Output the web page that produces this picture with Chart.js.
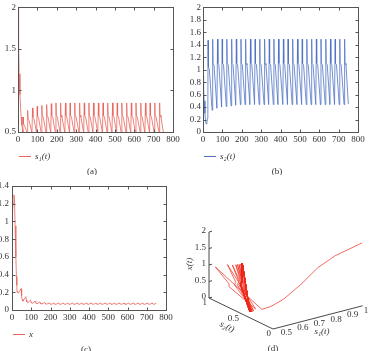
<!DOCTYPE html>
<html>
<head>
<meta charset="utf-8">
<script src="https://cdn.jsdelivr.net/npm/chart.js@4.4.0/dist/chart.umd.min.js"></script>
<style>
  body { margin: 0; background: #fff; width: 369px; height: 351px; position: relative; overflow: hidden; }
  canvas { position: absolute; }
</style>
</head>
<body>
<canvas id="ca" width="185" height="175" style="left:0;top:0"></canvas>
<canvas id="cb" width="184" height="175" style="left:185px;top:0"></canvas>
<canvas id="cc" width="185" height="176" style="left:0;top:175px"></canvas>
<canvas id="cd" width="184" height="176" style="left:185px;top:175px"></canvas>
<script>
// sample times and the three state variables
const time = [0, 3, 6, 10, 13, 16, 20, 23, 25,
  26, 28, 33, 47, 50, 52, 57, 72, 75, 77, 82, 96, 99, 101, 106, 120,
  123, 125, 130, 145, 148, 150, 155, 169, 172, 174, 179, 193, 196, 198, 203, 217,
  220, 222, 227, 242, 245, 247, 252, 266, 269, 271, 276, 290, 293, 295, 300, 315,
  318, 320, 325, 339, 342, 344, 349, 363, 366, 368, 373, 387, 390, 392, 397, 412,
  415, 417, 422, 436, 439, 441, 446, 460, 463, 465, 470, 485, 488, 490, 495, 509,
  512, 514, 519, 533, 536, 538, 543, 558, 561, 563, 568, 582, 585, 587, 592, 606,
  609, 611, 616, 631, 634, 636, 641, 655, 658, 660, 665, 679, 682, 684, 689, 703,
  706, 708, 713, 728, 731, 733, 738, 750];

const s1 = [2.0, 1.55, 1.2, 0.95, 0.8, 0.68, 0.58, 0.53, 0.5,
  0.68, 0.6, 0.58, 0.49, 0.76, 0.66, 0.64, 0.49, 0.79, 0.68, 0.66, 0.49, 0.81, 0.69, 0.67, 0.49,
  0.82, 0.7, 0.68, 0.49, 0.83, 0.7, 0.68, 0.49, 0.84, 0.7, 0.68, 0.49, 0.85, 0.7, 0.68, 0.49,
  0.85, 0.7, 0.68, 0.49, 0.85, 0.7, 0.68, 0.49, 0.85, 0.7, 0.68, 0.49, 0.85, 0.7, 0.68, 0.49,
  0.85, 0.7, 0.68, 0.49, 0.85, 0.7, 0.68, 0.49, 0.85, 0.7, 0.68, 0.49, 0.85, 0.7, 0.68, 0.49,
  0.85, 0.7, 0.68, 0.49, 0.85, 0.7, 0.68, 0.49, 0.85, 0.7, 0.68, 0.49, 0.85, 0.7, 0.68, 0.49,
  0.85, 0.7, 0.68, 0.49, 0.85, 0.7, 0.68, 0.49, 0.85, 0.7, 0.68, 0.49, 0.85, 0.7, 0.68, 0.49,
  0.85, 0.7, 0.68, 0.49, 0.85, 0.7, 0.68, 0.49, 0.85, 0.7, 0.68, 0.49, 0.85, 0.7, 0.68, 0.49,
  0.85, 0.7, 0.68, 0.49, 0.85, 0.7, 0.68, 0.5];

const s2 = [0.9, 0.7, 0.5, 0.3, 0.18, 0.13, 0.15, 0.22, 0.28,
  1.47, 1.05, 1.0, 0.35, 1.49, 1.1, 1.07, 0.38, 1.49, 1.1, 1.08, 0.4, 1.49, 1.1, 1.08, 0.41,
  1.49, 1.1, 1.08, 0.42, 1.49, 1.1, 1.08, 0.43, 1.49, 1.1, 1.08, 0.44, 1.49, 1.1, 1.08, 0.44,
  1.49, 1.1, 1.08, 0.44, 1.49, 1.1, 1.08, 0.44, 1.49, 1.1, 1.08, 0.44, 1.49, 1.1, 1.08, 0.44,
  1.49, 1.1, 1.08, 0.44, 1.49, 1.1, 1.08, 0.44, 1.49, 1.1, 1.08, 0.44, 1.49, 1.1, 1.08, 0.44,
  1.49, 1.1, 1.08, 0.44, 1.49, 1.1, 1.08, 0.44, 1.49, 1.1, 1.08, 0.44, 1.49, 1.1, 1.08, 0.44,
  1.49, 1.1, 1.08, 0.44, 1.49, 1.1, 1.08, 0.44, 1.49, 1.1, 1.08, 0.44, 1.49, 1.1, 1.08, 0.44,
  1.49, 1.1, 1.08, 0.44, 1.49, 1.1, 1.08, 0.44, 1.49, 1.1, 1.08, 0.44, 1.49, 1.1, 1.08, 0.44,
  1.49, 1.1, 1.08, 0.44, 1.49, 1.1, 1.08, 0.45];

const xv = [1.0, 1.12, 1.2, 1.3, 1.25, 0.95, 0.6, 0.38, 0.28,
  0.21, 0.2, 0.19, 0.24, 0.16, 0.12, 0.1, 0.15, 0.11, 0.09, 0.08, 0.11, 0.09, 0.08, 0.075, 0.1,
  0.085, 0.075, 0.07, 0.09, 0.08, 0.07, 0.068, 0.085, 0.075, 0.068, 0.065, 0.08, 0.072, 0.066, 0.063, 0.078,
  0.072, 0.066, 0.063, 0.078, 0.072, 0.066, 0.063, 0.078, 0.072, 0.066, 0.063, 0.078, 0.072, 0.066, 0.063, 0.078,
  0.072, 0.066, 0.063, 0.078, 0.072, 0.066, 0.063, 0.078, 0.072, 0.066, 0.063, 0.078, 0.072, 0.066, 0.063, 0.078,
  0.072, 0.066, 0.063, 0.078, 0.072, 0.066, 0.063, 0.078, 0.072, 0.066, 0.063, 0.078, 0.072, 0.066, 0.063, 0.078,
  0.072, 0.066, 0.063, 0.078, 0.072, 0.066, 0.063, 0.078, 0.072, 0.066, 0.063, 0.078, 0.072, 0.066, 0.063, 0.078,
  0.072, 0.066, 0.063, 0.078, 0.072, 0.066, 0.063, 0.078, 0.072, 0.066, 0.063, 0.078, 0.072, 0.066, 0.063, 0.078,
  0.072, 0.066, 0.063, 0.078, 0.072, 0.066, 0.063, 0.078];

const timeTicks = [0, 100, 200, 300, 400, 500, 600, 700, 800];
const s1Ticks = [0.5, 1, 1.5, 2];
const s2Ticks = [0, 0.2, 0.4, 0.6, 0.8, 1, 1.2, 1.4, 1.6, 1.8, 2];
const xTicks = [0, 0.2, 0.4, 0.6, 0.8, 1, 1.2, 1.4];

// 3d panel ticks
const zTicks3 = [0, 0.5, 1, 1.5, 2];
const s2Ticks3 = [0, 0.5, 1];
const s1Ticks3 = [0.5, 0.6, 0.7, 0.8, 0.9, 1];

const SERIF = '"Liberation Serif", "DejaVu Serif", serif';
const TXT = '#333';

// box with inward ticks, legend line and caption
const framePlugin = {
  id: 'frame',
  afterDraw(chart, args, opts) {
    const { ctx, chartArea: a, scales: { x, y } } = chart;
    ctx.save();
    ctx.strokeStyle = '#555';
    ctx.lineWidth = 1;
    const L = Math.round(a.left) + 0.5, T = Math.round(a.top) + 0.5;
    const R = Math.round(a.right) + 0.5, B = Math.round(a.bottom) + 0.5;
    ctx.strokeRect(L, T, R - L, B - T);
    ctx.beginPath();
    x.ticks.forEach(t => {
      const p = Math.round(x.getPixelForValue(t.value)) + 0.5;
      ctx.moveTo(p, B); ctx.lineTo(p, B - 3);
      ctx.moveTo(p, T); ctx.lineTo(p, T + 3);
    });
    y.ticks.forEach(t => {
      const p = Math.round(y.getPixelForValue(t.value)) + 0.5;
      ctx.moveTo(L, p); ctx.lineTo(L + 3, p);
      ctx.moveTo(R, p); ctx.lineTo(R - 3, p);
    });
    ctx.stroke();

    const ds = chart.data.datasets[0];
    const ly = Math.round(a.bottom) + 24.5;
    ctx.strokeStyle = ds.borderColor;
    ctx.beginPath();
    ctx.moveTo(a.left + 1, ly); ctx.lineTo(a.left + 13, ly);
    ctx.stroke();
    ctx.fillStyle = TXT;
    ctx.textBaseline = 'middle';
    ctx.font = 'italic 9px ' + SERIF;
    ctx.fillText(ds.label, a.left + 17, ly);
    ctx.textAlign = 'center';
    ctx.font = '9px ' + SERIF;
    ctx.fillText(opts.caption, a.left + 74, a.bottom + 40);
    ctx.restore();
  }
};

function tickList(arr) {
  return s => { s.ticks = arr.map(v => ({ value: v })); };
}

function seriesChart(id, label, ys, color, yTicks, box, caption, yPad) {
  const cv = document.getElementById(id);
  return new Chart(cv, {
    type: 'line',
    data: {
      datasets: [{
        label: label,
        data: ys.map((v, i) => ({ x: time[i], y: v })),
        borderColor: color,
        borderWidth: 0.8,
        pointRadius: 0,
        tension: 0,
        fill: false
      }]
    },
    options: {
      responsive: false,
      animation: false,
      layout: { padding: { left: 0, top: box[1], right: cv.width - box[2], bottom: cv.height - box[3] - 14 } },
      scales: {
        x: {
          type: 'linear', min: 0, max: 800,
          afterBuildTicks: tickList(timeTicks),
          afterFit: s => { s.height = 14; },
          grid: { display: false, drawTicks: false }, border: { display: false },
          ticks: { autoSkip: false, maxRotation: 0, padding: 2, color: TXT, font: { family: SERIF, size: 9 }, callback: v => String(v) }
        },
        y: {
          type: 'linear', min: yTicks[0], max: yTicks[yTicks.length - 1],
          afterBuildTicks: tickList(yTicks),
          afterFit: s => { s.width = box[0]; },
          grid: { display: false, drawTicks: false }, border: { display: false },
          ticks: { autoSkip: false, padding: yPad, color: TXT, font: { family: SERIF, size: 9 }, callback: v => String(v) }
        }
      },
      plugins: { legend: { display: false }, tooltip: { enabled: false }, frame: { caption: caption } }
    },
    plugins: [framePlugin]
  });
}

seriesChart('ca', 's\u2081(t)', s1, '#e9645c', s1Ticks, [18, 7, 173, 132], '(a)', 2);
seriesChart('cb', 's\u2082(t)', s2, '#4f72c4', s2Ticks, [18, 7, 173, 132], '(b)', 2);
seriesChart('cc', 'x', xv, '#e9645c', xTicks, [12, 11, 166, 135], '(c)', 3);

// ---- 3d phase portrait (s1, s2, x), oblique view ----
const S1MIN = 0.46;
function proj(a, b, z) {
  return {
    x: 24 + (a - S1MIN) * 166 + (1 - b) * 64,
    y: 123 - (a - S1MIN) * 43 + (1 - b) * 31 - z * 33
  };
}

const axes3d = {
  id: 'axes3d',
  beforeDatasetsDraw(chart) {
    const { ctx, scales: { x, y } } = chart;
    const px = p => ({ x: x.getPixelForValue(p.x), y: y.getPixelForValue(p.y) });
    const line = (p, q) => { ctx.moveTo(p.x, p.y); ctx.lineTo(q.x, q.y); };
    ctx.save();
    ctx.strokeStyle = '#333';
    ctx.lineWidth = 0.9;
    ctx.beginPath();
    line(px(proj(S1MIN, 1, 0)), px(proj(S1MIN, 1, 2)));
    line(px(proj(S1MIN, 1, 0)), px(proj(S1MIN, 0, 0)));
    line(px(proj(S1MIN, 0, 0)), px(proj(1, 0, 0)));
    zTicks3.forEach(v => {
      const p = px(proj(S1MIN, 1, v));
      ctx.moveTo(p.x, p.y); ctx.lineTo(p.x + 3, p.y - 0.8);
    });
    ctx.stroke();

    ctx.fillStyle = TXT;
    ctx.font = '9px ' + SERIF;
    ctx.textBaseline = 'middle';
    ctx.textAlign = 'right';
    zTicks3.forEach(v => {
      const p = px(proj(S1MIN, 1, v));
      ctx.fillText(String(v), p.x - 3, p.y - 1);
    });
    s2Ticks3.forEach(v => {
      const p = px(proj(S1MIN, v, 0));
      ctx.fillText(String(v), p.x - 2, p.y + 5);
    });
    ctx.textAlign = 'left';
    s1Ticks3.forEach(v => {
      const p = px(proj(v, 0, 0));
      ctx.fillText(String(v), p.x + 1, p.y + 5);
    });

    ctx.font = 'italic 9px ' + SERIF;
    ctx.textAlign = 'center';
    ctx.fillText('s\u2081(t)', 137, 157);
    ctx.save();
    ctx.translate(42, 152);
    ctx.rotate(26 * Math.PI / 180);
    ctx.fillText('s\u2082(t)', 0, 0);
    ctx.restore();
    ctx.save();
    ctx.translate(5, 89);
    ctx.rotate(-Math.PI / 2);
    ctx.fillText('x(t)', 0, 0);
    ctx.restore();

    ctx.font = '9px ' + SERIF;
    ctx.fillText('(d)', 88, 174);
    ctx.restore();
  }
};

new Chart(document.getElementById('cd'), {
  type: 'scatter',
  data: {
    datasets: [{
      label: 'phase',
      data: time.map((t, i) => proj(s1[i], s2[i], xv[i])),
      showLine: true,
      borderColor: '#ee2a1a',
      borderWidth: 0.7,
      pointRadius: 0,
      tension: 0
    }]
  },
  options: {
    responsive: false,
    animation: false,
    layout: { padding: { left: 0, top: 0, right: 7, bottom: 0 } },
    scales: {
      x: { type: 'linear', display: false, min: 0, max: 177 },
      y: { type: 'linear', display: false, min: 0, max: 176, reverse: true }
    },
    plugins: { legend: { display: false }, tooltip: { enabled: false } }
  },
  plugins: [axes3d]
});
</script>
</body>
</html>
